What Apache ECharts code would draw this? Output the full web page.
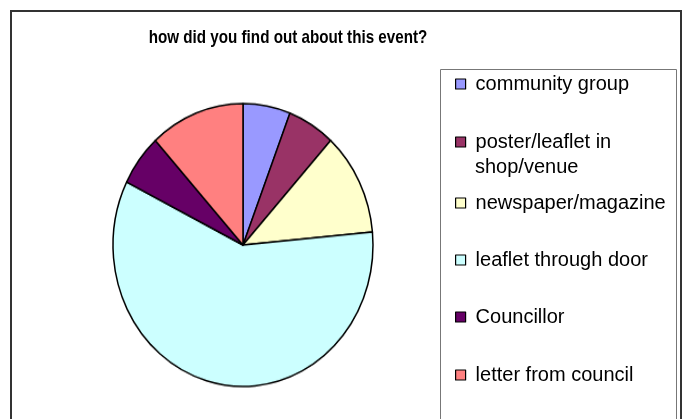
<!DOCTYPE html>
<html>
<head>
<meta charset="utf-8">
<script src="https://cdn.jsdelivr.net/npm/echarts@6/dist/echarts.min.js"></script>
<style>
  html, body { margin: 0; padding: 0; background: #fff; }
  #wrap { position: relative; width: 687px; height: 419px; overflow: hidden; }
  #pie, #main { position: absolute; left: 0; top: 0; width: 687px; height: 419px; }
  #pie { transform-origin: 243px 245px; transform: scaleY(1.088); }
</style>
</head>
<body>
<div id="wrap">
  <div id="pie"></div>
  <div id="main"></div>
</div>
<script>
// ---- data ----
const titleText = 'how did you find out about this event?';
const categories = ['community group', 'poster/leaflet in shop/venue', 'newspaper/magazine', 'leaflet through door', 'Councillor', 'letter from council'];
const values = [1, 1, 2, 10, 1, 2];
const colors = ['#9999FF', '#993366', '#FFFFCC', '#CCFFFF', '#660066', '#FF8080'];
const legendLines = { 'poster/leaflet in shop/venue': ['poster/leaflet in', 'shop/venue'] };

const pieData = categories.map((c, i) => ({ name: c, value: values[i], itemStyle: { color: colors[i] } }));

// ---- pie (stretched vertically like the original) ----
const pie = echarts.init(document.getElementById('pie'), null, { renderer: 'canvas' });
pie.setOption({
  animation: false,
  series: [{
    type: 'pie',
    center: [243, 245],
    radius: 130,
    startAngle: 90,
    clockwise: true,
    label: { show: false },
    labelLine: { show: false },
    emphasis: { disabled: true },
    itemStyle: { borderColor: '#000', borderWidth: 1.5 },
    data: pieData
  }]
});

// ---- title, legend, frames ----
const main = echarts.init(document.getElementById('main'), null, { renderer: 'canvas' });
const legendCenters = [84, 142, 203, 260, 317, 375];
const legends = categories.map((c, i) => ({
  data: [c],
  left: 455,
  top: legendCenters[i] - 10,
  orient: 'vertical',
  padding: 0,
  selectedMode: false,
  icon: 'rect',
  itemWidth: 10,
  itemHeight: 10,
  itemStyle: { borderColor: '#000', borderWidth: 1.2 },
  formatter: (n) => legendLines[n] ? legendLines[n][0] : n,
  textStyle: { fontFamily: 'Liberation Sans, Arial, sans-serif', fontSize: 20, color: '#000', padding: [0, 0, 0, 5] }
}));

main.setOption({
  animation: false,
  legend: legends,
  graphic: [
    { type: 'rect', shape: { x: 11, y: 11, width: 670, height: 430 }, style: { fill: 'none', stroke: '#333', lineWidth: 2 }, silent: true },
    { type: 'rect', shape: { x: 440.5, y: 69.5, width: 236, height: 370 }, style: { fill: 'none', stroke: '#777', lineWidth: 1 }, silent: true },
    { type: 'text', x: 288, y: 38, scaleX: 0.8, originX: 0, originY: 0,
      style: { text: titleText, font: 'bold 19px "Liberation Sans", Arial, sans-serif', fill: '#000', align: 'center', verticalAlign: 'middle' }, silent: true },
    { type: 'text', left: 475, top: 157, style: { text: legendLines['poster/leaflet in shop/venue'][1], font: '20px "Liberation Sans", Arial, sans-serif', fill: '#000' }, silent: true }
  ],
  series: [{
    type: 'pie',
    center: [-100, -100],
    radius: [0, 0],
    silent: true,
    label: { show: false },
    labelLine: { show: false },
    itemStyle: { borderWidth: 0 },
    data: pieData
  }]
});
</script>
</body>
</html>
